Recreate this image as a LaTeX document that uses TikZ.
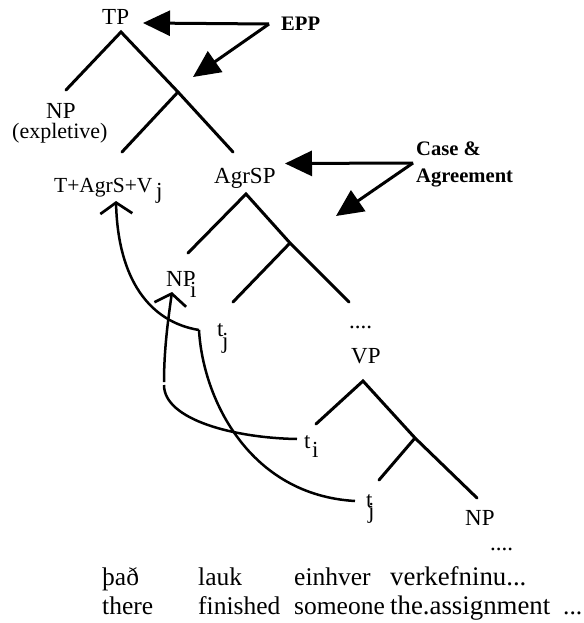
\documentclass[tikz,border=0pt]{standalone}
\usepackage{fontspec}
\setmainfont{Liberation Serif}
\usetikzlibrary{arrows.meta}
\newcommand{\txf}{\fontsize{23}{23}\selectfont}
\newcommand{\smf}{\fontsize{22}{22}\selectfont}
\newcommand{\mnf}{\fontsize{21.5}{21.5}\selectfont}
\newcommand{\wrdf}{\fontsize{25.5}{25.5}\selectfont}
\newcommand{\wrdg}{\fontsize{26.8}{26.8}\selectfont}
\newcommand{\bdf}{\fontsize{20.6}{20.6}\selectfont\bfseries}
\begin{document}
\begin{tikzpicture}[x=1pt,y=-1pt,
  lab/.style={inner sep=0pt,anchor=base west,font=\txf},
  word/.style={lab,font=\wrdf},
  widerword/.style={lab,font=\wrdg},
  blab/.style={inner sep=0pt,anchor=base west,font=\bdf},
  branch/.style={line width=3pt,line cap=round},
  bigarrow/.style={line width=3pt,-{Triangle[length=27pt,width=25pt]}},
  movecurve/.style={line width=2.5pt},
  barb/.style={movecurve,-{Straight Barb[length=11pt,width=32pt,line width=2.7pt]}}]
\useasboundingbox (0,0) rectangle (583,623);
% labels
\node[lab] (tp) at (102,25) {TP};
\node[lab] (np1) at (46,118) {NP};
\node[lab,font=\smf] (expl) at (12,139) {(expletive)};
\node[lab,font=\mnf] (tverb) at (54,192) {T+AgrS+V};
\node[lab] (tverbj) at (156,198.5) {j};
\node[lab] (agrsp) at (214,183) {AgrSP};
\node[lab] (npi) at (166,286) {NP};
\node[lab] (npisub) at (190,297) {i};
\node[lab] (tj1) at (217,336) {t};
\node[lab] (tj1sub) at (222,348.5) {j};
\node[lab] (dots1) at (349,328) {....};
\node[lab] (vp) at (351,363) {VP};
\node[lab] (ti) at (304,448) {t};
\node[lab] (tisub) at (312,457) {i};
\node[lab] (tj2) at (366,507) {t};
\node[lab] (tj2sub) at (368,518) {j};
\node[lab] (np2) at (465,525) {NP};
\node[lab] (dots2) at (490,550) {....};
\node[blab] (epp) at (281,31) {EPP};
\node[blab] (case) at (416,155) {Case \&};
\node[blab] (agr) at (416,182) {Agreement};
\node[word] (w1) at (102,585) {það};
\node[word] (w2) at (198,585) {lauk};
\node[word] (w3) at (294,585) {einhver};
\node[widerword] (w4) at (390,585) {verkefninu...};
\node[word] (g1) at (102,614) {there};
\node[word] (g2) at (198,614) {finished};
\node[word] (g3) at (294,614) {someone};
\node[widerword] (g4) at (390,614) {the.assignment};
\node[word] (g5) at (563,614) {...};
% tree points
\coordinate (a1) at (121,32);
\coordinate (a1l) at (66,90);
\coordinate (a2) at (178,92);
\coordinate (a2l) at (122,152);
\coordinate (a2r) at (233,152);
\coordinate (b1) at (246,194);
\coordinate (b1l) at (188,253);
\coordinate (b2) at (290,243);
\coordinate (b2l) at (233,302);
\coordinate (b2r) at (349,302);
\coordinate (c1) at (363,381);
\coordinate (c1l) at (316,424);
\coordinate (c2) at (415,438);
\coordinate (c2l) at (379,480);
\coordinate (c2r) at (477,498);
\draw[branch] (a1l) -- (a1) -- (a2) -- (a2r);
\draw[branch] (a2l) -- (a2);
\draw[branch] (b1l) -- (b1) -- (b2) -- (b2r);
\draw[branch] (b2l) -- (b2);
\draw[branch] (c1l) -- (c1) -- (c2) -- (c2r);
\draw[branch] (c2l) -- (c2);
% annotation arrows
\coordinate (e0) at (269,24);
\coordinate (e1) at (143,23);
\coordinate (e2) at (193,77);
\coordinate (k0) at (413,163);
\coordinate (k1) at (285,163.5);
\coordinate (k2) at (336,216);
\draw[bigarrow] (e0) -- (e1);
\draw[bigarrow] (e0) -- (e2);
\draw[bigarrow] (k0) -- (k1);
\draw[bigarrow] (k0) -- (k2);
% movement
\coordinate (m1) at (116,201);
\coordinate (m2) at (199,330);
\coordinate (m3) at (355,501);
\coordinate (m4) at (172,292);
\coordinate (m5) at (164,382);
\coordinate (m6) at (164,385);
\coordinate (m7) at (297,439);
\draw[barb] (m2) .. controls (150,322) and (118,280) .. (m1);
\draw[movecurve] (m2) .. controls (203,400) and (250,495) .. (m3);
\draw[barb] (m5) .. controls (164,350) and (168,320) .. (m4);
\draw[movecurve] (m6) .. controls (164,420) and (235,438) .. (m7);
\end{tikzpicture}
\end{document}
